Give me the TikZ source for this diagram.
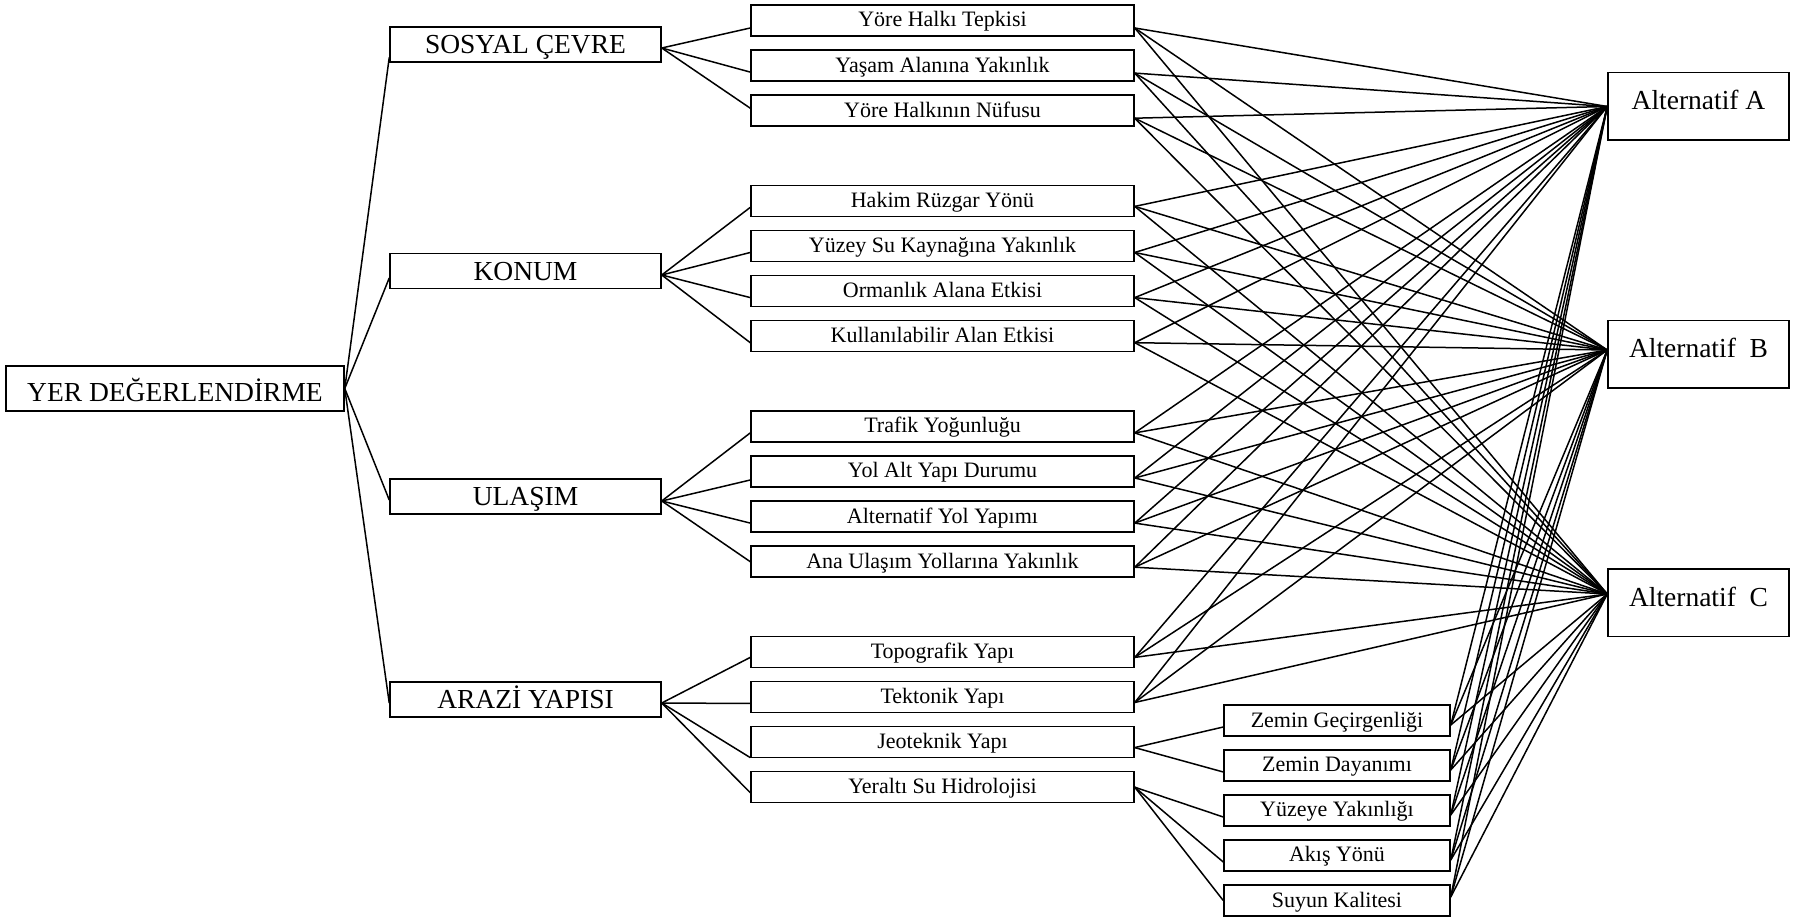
\documentclass[tikz,border=0pt]{standalone}
\usepackage{fontspec}
\setmainfont{Liberation Serif}
\usetikzlibrary{calc}

\begin{document}
\begin{tikzpicture}[x=0.5pt, y=-0.5pt,
  box/.style={draw, line width=0.75pt, inner sep=0pt, align=center},
  goal/.style={box, minimum width=169pt, minimum height=22.5pt,
    font=\fontsize{13.75}{16}\selectfont, text height=13pt, text depth=0.4pt},
  maincrit/.style={box, minimum width=135.5pt, minimum height=17.5pt,
    font=\fontsize{13.75}{16}\selectfont, text height=10pt, text depth=0.9pt},
  subcrit/.style={box, minimum width=191.5pt, minimum height=15.5pt,
    font=\fontsize{11}{13}\selectfont, text height=8pt, text depth=1.5pt},
  subsub/.style={box, minimum width=113pt, minimum height=15.5pt,
    font=\fontsize{11}{13}\selectfont, text height=8pt, text depth=1.5pt},
  alt/.style={box, minimum width=90.5pt, minimum height=33.75pt,
    font=\fontsize{13.75}{16}\selectfont, text height=10pt, text depth=6.9pt},
  link/.style={line width=0.75pt}
]
\useasboundingbox (0,0) rectangle (1796,919);

% goal
\node[goal] (yer) at (175,388.5) {YER DEĞERLENDİRME};

% main criteria
\node[maincrit] (sosyal) at (525.5,44.5)  {SOSYAL ÇEVRE};
\node[maincrit] (konum)  at (525.5,271)   {KONUM};
\node[maincrit] (ulasim) at (525.5,496.5) {ULAŞIM};
\node[maincrit] (arazi)  at (525.5,699.5) {ARAZİ YAPISI};

% sub-criteria
\node[subcrit] (c1)  at (942.5,20.5)  {Yöre Halkı Tepkisi};
\node[subcrit] (c2)  at (942.5,65.6)  {Yaşam Alanına Yakınlık};
\node[subcrit] (c3)  at (942.5,110.7) {Yöre Halkının Nüfusu};
\node[subcrit] (c4)  at (942.5,200.9) {Hakim Rüzgar Yönü};
\node[subcrit] (c5)  at (942.5,246.0) {Yüzey Su Kaynağına Yakınlık};
\node[subcrit] (c6)  at (942.5,291.1) {Ormanlık Alana Etkisi};
\node[subcrit] (c7)  at (942.5,336.2) {Kullanılabilir Alan Etkisi};
\node[subcrit] (c8)  at (942.5,426.4) {Trafik Yoğunluğu};
\node[subcrit] (c9)  at (942.5,471.5) {Yol Alt Yapı Durumu};
\node[subcrit] (c10) at (942.5,516.6) {Alternatif Yol Yapımı};
\node[subcrit] (c11) at (942.5,561.7) {Ana Ulaşım Yollarına Yakınlık};
\node[subcrit] (c12) at (942.5,651.9) {Topografik Yapı};
\node[subcrit] (c13) at (942.5,697.0) {Tektonik Yapı};
\node[subcrit] (c14) at (942.5,742.1) {Jeoteknik Yapı};
\node[subcrit] (c15) at (942.5,787.2) {Yeraltı Su Hidrolojisi};

% third-level criteria
\node[subsub] (s1) at (1337,720.5) {Zemin Geçirgenliği};
\node[subsub] (s2) at (1337,765.5) {Zemin Dayanımı};
\node[subsub] (s3) at (1337,810.5) {Yüzeye Yakınlığı};
\node[subsub] (s4) at (1337,855.5) {Akış Yönü};
\node[subsub] (s5) at (1337,900.5) {Suyun Kalitesi};

% alternatives
\node[alt] (altA) at (1698.5,106.5) {Alternatif A};
\node[alt] (altB) at (1698.5,354.5) {Alternatif\ \ B};
\node[alt] (altC) at (1698.5,603)   {Alternatif\ \ C};

\coordinate (inA) at ($(altA.west)+(0,0)$);
\coordinate (inB) at ($(altB.west)+(0,-4.5)$);
\coordinate (inC) at ($(altC.west)+(0,-9)$);

% goal to main criteria
\draw[link] (yer.east) -- ($(sosyal.west)+(0,13)$);
\draw[link] (yer.east) -- ($(konum.west)+(0,7)$);
\draw[link] (yer.east) -- ($(ulasim.west)+(0,3.5)$);
\draw[link] (yer.east) -- ($(arazi.west)+(0,3.5)$);

% main criteria to sub-criteria
\foreach \t/\o in {c1/7.5, c2/6.5, c3/-2.5}
  \draw[link] ($(sosyal.east)+(0,3.5)$) -- ($(\t.west)+(0,\o)$);
\foreach \t/\o in {c4/6.5, c5/6.5, c6/6.5, c7/6.5}
  \draw[link] ($(konum.east)+(0,4)$) -- ($(\t.west)+(0,\o)$);
\foreach \t/\o in {c8/6.5, c9/8.5, c10/6.5, c11/0}
  \draw[link] ($(ulasim.east)+(0,4.5)$) -- ($(\t.west)+(0,\o)$);
\foreach \t/\o in {c12/5.5, c13/6.5, c14/15.5, c15/5.5}
  \draw[link] ($(arazi.east)+(0,3.5)$) -- ($(\t.west)+(0,\o)$);

% sub-criteria to third level
\foreach \t in {s1, s2}
  \draw[link] ($(c14.east)+(0,5.5)$) -- ($(\t.west)+(0,6.5)$);
\foreach \t/\o in {s3/6.5, s4/6.5, s5/0}
  \draw[link] (c15.east) -- ($(\t.west)+(0,\o)$);

% every leaf criterion to every alternative
\foreach \n/\o in {c1/7.5, c2/7.5, c3/7.5, c4/5.5, c5/6.5, c6/6.5, c7/6.5,
                   c8/6.5, c9/6.5, c10/6.5, c11/5.5, c12/5.5, c13/5.5,
                   s1/4.5, s2/4.5, s3/4.5, s4/4.5, s5/-3.5} {
  \draw[link] ($(\n.east)+(0,\o)$) -- (inA);
  \draw[link] ($(\n.east)+(0,\o)$) -- (inB);
  \draw[link] ($(\n.east)+(0,\o)$) -- (inC);
}
\end{tikzpicture}
\end{document}
